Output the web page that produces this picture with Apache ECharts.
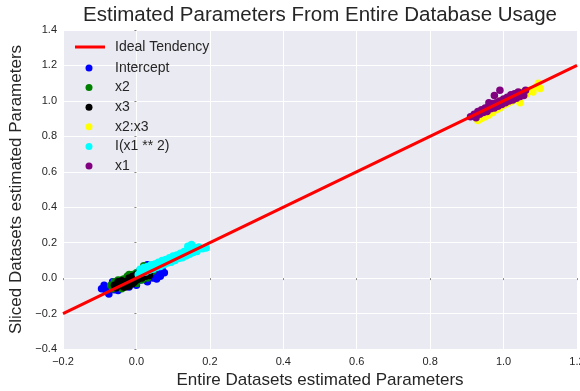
<!DOCTYPE html>
<html><head><meta charset="utf-8">
<script src="https://cdn.jsdelivr.net/npm/echarts@6/dist/echarts.min.js"></script>
<style>html,body{margin:0;padding:0;background:#fff}#c{width:580px;height:391px}</style>
</head><body><div id="c"></div>
<script>
const xTicks = [-0.2, 0.0, 0.2, 0.4, 0.6, 0.8, 1.0, 1.2];
const yTicks = [-0.4, -0.2, 0.0, 0.2, 0.4, 0.6, 0.8, 1.0, 1.2, 1.4];
const idealLine = [[-0.2, -0.2], [1.2, 1.2]];
const intercept = [[-0.095,-0.06],[-0.088,-0.04],[-0.082,-0.075],[-0.075,-0.09],[-0.07,-0.05],[-0.065,-0.02],[-0.06,-0.065],[-0.055,-0.04],[-0.05,-0.07],[-0.045,-0.03],[-0.04,-0.055],[-0.035,-0.015],[-0.03,-0.045],[-0.025,-0.02],[-0.02,-0.05],[-0.015,0.0],[-0.01,-0.03],[-0.005,-0.01],[0.0,-0.04],[0.005,0.02],[0.01,-0.01],[0.015,0.03],[0.02,0.0],[0.025,0.05],[0.03,-0.02],[0.035,0.02],[0.04,0.06],[0.045,0.0],[0.05,0.03],[0.055,-0.005],[0.06,0.04],[0.065,0.01],[0.07,0.05],[0.076,0.03],[0.03,0.075]];
const x2 = [[-0.07,-0.04],[-0.065,-0.06],[-0.06,-0.02],[-0.055,-0.045],[-0.05,-0.01],[-0.045,-0.035],[-0.04,-0.06],[-0.035,-0.005],[-0.03,-0.03],[-0.025,0.01],[-0.02,-0.04],[-0.015,-0.01],[-0.01,0.02],[-0.005,-0.02],[0.0,0.03],[0.005,0.0],[0.01,0.04],[0.015,-0.01],[0.02,0.05],[0.025,0.02],[0.03,0.06],[0.035,0.03],[0.04,0.07],[0.045,0.04],[0.05,0.06],[-0.02,0.02],[0.0,-0.03],[0.02,0.07],[-0.04,-0.01],[0.03,0.0]];
const x3 = [[-0.06,-0.04],[-0.055,-0.055],[-0.05,-0.02],[-0.045,-0.04],[-0.04,-0.015],[-0.035,-0.05],[-0.03,-0.02],[-0.025,-0.035],[-0.02,0.0],[-0.015,-0.025],[-0.01,0.01],[-0.005,-0.02],[0.0,0.02],[0.005,-0.005],[0.01,0.03],[0.015,0.0],[0.02,0.04],[0.025,0.01],[0.03,0.035],[0.035,0.015],[0.04,0.045],[-0.03,-0.05],[-0.01,-0.03],[0.01,0.045],[0.0,-0.01],[-0.045,-0.025],[0.02,0.02],[-0.02,-0.045]];
const x2x3 = [[0.93,0.89],[0.935,0.915],[0.94,0.9],[0.945,0.93],[0.95,0.91],[0.955,0.945],[0.96,0.92],[0.965,0.955],[0.97,0.935],[0.975,0.965],[0.98,0.95],[0.985,0.98],[0.99,0.96],[0.995,0.99],[1.0,0.975],[1.005,1.005],[1.01,0.985],[1.015,1.015],[1.02,0.995],[1.025,1.03],[1.03,1.005],[1.035,1.04],[1.04,1.02],[1.05,1.05],[1.06,1.035],[1.07,1.06],[1.08,1.05],[1.09,1.08],[1.1,1.07],[1.095,1.1],[1.045,0.99],[0.99,1.0]];
const x1sq = [[0.005,0.02],[0.01,0.05],[0.015,0.03],[0.02,0.06],[0.025,0.035],[0.03,0.065],[0.035,0.045],[0.04,0.075],[0.045,0.05],[0.05,0.08],[0.055,0.06],[0.06,0.09],[0.065,0.065],[0.07,0.1],[0.075,0.075],[0.08,0.105],[0.085,0.085],[0.09,0.115],[0.095,0.09],[0.1,0.125],[0.105,0.1],[0.11,0.13],[0.115,0.11],[0.12,0.14],[0.125,0.115],[0.13,0.15],[0.135,0.125],[0.14,0.16],[0.145,0.135],[0.15,0.19],[0.155,0.145],[0.16,0.17],[0.165,0.15],[0.17,0.175],[0.18,0.165],[0.19,0.17],[0.14,0.18]];
const x1 = [[0.91,0.91],[0.92,0.925],[0.925,0.905],[0.93,0.94],[0.935,0.925],[0.94,0.95],[0.945,0.935],[0.95,0.96],[0.955,0.94],[0.96,0.97],[0.965,0.955],[0.97,0.985],[0.975,0.96],[0.98,0.99],[0.985,0.97],[0.99,1.0],[0.995,0.98],[1.0,1.01],[1.005,0.99],[1.01,1.02],[1.015,1.0],[1.02,1.035],[1.025,1.005],[1.03,1.04],[1.035,1.015],[1.04,1.05],[1.045,1.025],[1.05,1.045],[1.055,1.03],[1.06,1.06],[0.975,1.03],[0.96,0.99],[0.99,1.06]];

const fmt = v => (Math.round(v*10)/10).toFixed(1).replace('-', '\u2212');
const FONT = 'Liberation Sans, Arial, sans-serif';
const scatterDefs = [
  ['Intercept', intercept, '#0000FF'],
  ['x2', x2, '#008000'],
  ['x3', x3, '#000000'],
  ['x2:x3', x2x3, '#FFFF00'],
  ['I(x1 ** 2)', x1sq, '#00FFFF'],
  ['x1', x1, '#800080']
];
const chart = echarts.init(document.getElementById('c'), null, {renderer: 'canvas'});
chart.setOption({
  animation: false,
  backgroundColor: '#ffffff',
  title: {
    text: 'Estimated Parameters From Entire Database Usage',
    left: 320, textAlign: 'center', top: 5, padding: 0,
    textStyle: {fontFamily: FONT, fontSize: 20.5, fontWeight: 'normal', color: '#262626'}
  },
  legend: [
    {
      data: [{name: 'Ideal Tendency', icon: 'rect'}],
      left: 75, top: 39, orient: 'vertical', padding: 0,
      itemWidth: 30, itemHeight: 3,
      textStyle: {fontFamily: FONT, fontSize: 14, color: '#262626', lineHeight: 16, padding: [0, 0, 0, 5]}
    },
    {
      data: scatterDefs.map(d => ({name: d[0], icon: 'circle'})),
      left: 85.5, top: 60, orient: 'vertical', padding: 0,
      itemWidth: 7, itemHeight: 7, itemGap: 3.6,
      textStyle: {fontFamily: FONT, fontSize: 14, color: '#262626', lineHeight: 16, padding: [0, 0, 0, 17.5]}
    }
  ],
  grid: {left: 63, right: 3, top: 30, bottom: 42, show: true, backgroundColor: '#EAEAF2', borderWidth: 0,
         containLabel: false, outerBoundsMode: 'none'},
  xAxis: {
    type: 'value', min: xTicks[0], max: xTicks[xTicks.length-1], interval: 0.2,
    name: 'Entire Datasets estimated Parameters', nameLocation: 'middle', nameGap: 23,
    nameTextStyle: {fontFamily: FONT, fontSize: 17, color: '#262626'},
    axisLine: {show: false},
    axisTick: {show: true, length: 2, lineStyle: {color: '#888'}},
    axisLabel: {formatter: fmt, fontFamily: FONT, fontSize: 11, color: '#262626', margin: 7},
    splitLine: {show: true, lineStyle: {color: '#ffffff', width: 1}}
  },
  yAxis: {
    type: 'value', min: yTicks[0], max: yTicks[yTicks.length-1], interval: 0.2,
    name: 'Sliced Datasets estimated Parameters', nameLocation: 'middle', nameGap: 35,
    nameTextStyle: {fontFamily: FONT, fontSize: 17, color: '#262626'},
    axisLine: {show: false},
    axisTick: {show: true, length: 2, lineStyle: {color: '#888'}},
    axisLabel: {formatter: fmt, fontFamily: FONT, fontSize: 11, color: '#262626', margin: 6},
    splitLine: {show: true, lineStyle: {color: '#ffffff', width: 1}}
  },
  series: [
    {
      name: 'Ideal Tendency', type: 'line', data: idealLine, showSymbol: false, symbol: 'none',
      lineStyle: {color: '#FF0000', width: 3}, itemStyle: {color: '#FF0000'}, z: 10
    }
  ].concat(scatterDefs.map((d, i) => ({
    name: d[0], type: 'scatter', data: d[1], symbolSize: 7.5,
    itemStyle: {color: d[2], opacity: 1}, z: 2 + i * 0.01
  })))
});
</script></body></html>
